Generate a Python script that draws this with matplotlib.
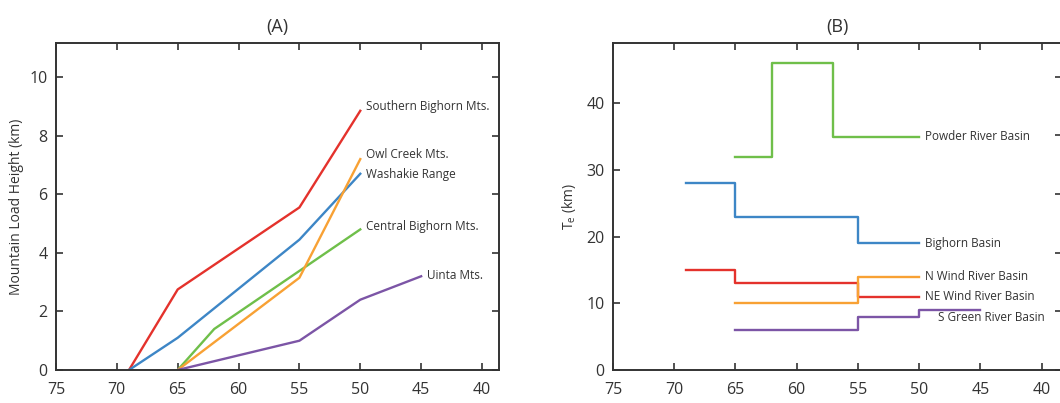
import matplotlib
matplotlib.use("Agg")
import matplotlib.pyplot as plt

plt.rcParams['font.family'] = ['Open Sans', 'DejaVu Sans']

# Data ----------------------------------------------------------------------

# (A) mountain load height vs age (Ma)
southern_x = [69, 65, 55, 50]
southern_y = [0, 2.75, 5.55, 8.85]
washakie_x = [69, 65, 55, 50]
washakie_y = [0, 1.1, 4.45, 6.7]
central_x = [65, 62, 50]
central_y = [0, 1.4, 4.8]
owl_x = [65, 55, 50]
owl_y = [0, 3.15, 7.2]
uinta_x = [65, 55, 50, 45]
uinta_y = [0, 1.0, 2.4, 3.2]

# (B) elastic thickness Te, step values starting at each age
powder_x = [65, 62, 57, 50]
powder_y = [32, 46, 35, 35]
bighorn_x = [69, 65, 55, 50]
bighorn_y = [28, 23, 19, 19]
ne_wind_x = [69, 65, 55, 50]
ne_wind_y = [15, 13, 11, 11]
n_wind_x = [65, 55, 50]
n_wind_y = [10, 14, 14]
s_green_x = [65, 55, 50, 45]
s_green_y = [6, 8, 9, 9]

ticks_x = [75, 70, 65, 60, 55, 50, 45, 40]

RED = '#e4322c'
BLUE = '#3d86c6'
GREEN = '#6fbf4a'
ORANGE = '#f8a134'
PURPLE = '#7c55a6'
DARK = '#333333'


def style_axes(ax):
    for s in ax.spines.values():
        s.set_color(DARK)
        s.set_linewidth(1.4)
    ax.tick_params(direction='in', top=True, right=True, length=5, width=1.2,
                   color=DARK, labelsize=11.5, labelcolor='#333333')
    ax.tick_params(axis='x', pad=9)
    ax.tick_params(axis='y', pad=6)
    ax.set_xticks(ticks_x)


fig = plt.figure(figsize=(10.6, 4.03), dpi=100)

# Panel A -------------------------------------------------------------------
axA = fig.add_axes([0.0528, 0.0819, 0.418, 0.8111])
lw = 1.7
axA.plot(southern_x, southern_y, color=RED, lw=lw)
axA.plot(washakie_x, washakie_y, color=BLUE, lw=lw)
axA.plot(central_x, central_y, color=GREEN, lw=lw)
axA.plot(owl_x, owl_y, color=ORANGE, lw=lw)
axA.plot(uinta_x, uinta_y, color=PURPLE, lw=lw)
axA.set_xlim(75, 38.6)
axA.set_ylim(0, 11.16)
axA.set_yticks([0, 2, 4, 6, 8, 10])
style_axes(axA)
axA.set_ylabel('Mountain Load Height (km)', fontsize=10, color='#333333', labelpad=4)
axA.set_title('(A)', fontsize=13, color='#333333', pad=8)

lab = dict(fontsize=8.5, color='#333333', ha='left', va='center')
axA.text(49.5, 8.98, 'Southern Bighorn Mts.', **lab)
axA.text(49.5, 7.37, 'Owl Creek Mts.', **lab)
axA.text(49.5, 6.69, 'Washakie Range', **lab)
axA.text(49.5, 4.91, 'Central Bighorn Mts.', **lab)
axA.text(44.5, 3.24, 'Uinta Mts.', **lab)

# Panel B -------------------------------------------------------------------
axB = fig.add_axes([0.5783, 0.0819, 0.424, 0.8111])
axB.step(powder_x, powder_y, where='post', color=GREEN, lw=lw)
axB.step(bighorn_x, bighorn_y, where='post', color=BLUE, lw=lw)
axB.step(ne_wind_x, ne_wind_y, where='post', color=RED, lw=lw)
axB.step(n_wind_x, n_wind_y, where='post', color=ORANGE, lw=lw)
axB.step(s_green_x, s_green_y, where='post', color=PURPLE, lw=lw)
axB.set_xlim(75, 38.3)
axB.set_ylim(0, 49)
axB.set_yticks([0, 10, 20, 30, 40])
style_axes(axB)
axB.tick_params(right=False)
axB.spines['right'].set_visible(False)
axB.set_ylabel('T$_\\mathregular{e}$ (km)', fontsize=10, color='#333333', labelpad=6)
axB.set_title('(B)', fontsize=13, color='#333333', pad=8)

# stray ticks on the (cropped) right edge
axB2 = axB.twinx()
axB2.set_ylim(0, 5.57)
axB2.set_yticks([0, 1, 2, 3, 4, 5])
axB2.tick_params(direction='in', length=5, width=1.2, color=DARK, labelright=False)
for s in axB2.spines.values():
    s.set_visible(False)

axB.text(49.5, 35, 'Powder River Basin', **lab)
axB.text(49.5, 19, 'Bighorn Basin', **lab)
axB.text(49.5, 14, 'N Wind River Basin', **lab)
axB.text(49.5, 11, 'NE Wind River Basin', **lab)
axB.text(48.5, 7.8, 'S Green River Basin', **lab)

fig.savefig('out.png', dpi=100)
